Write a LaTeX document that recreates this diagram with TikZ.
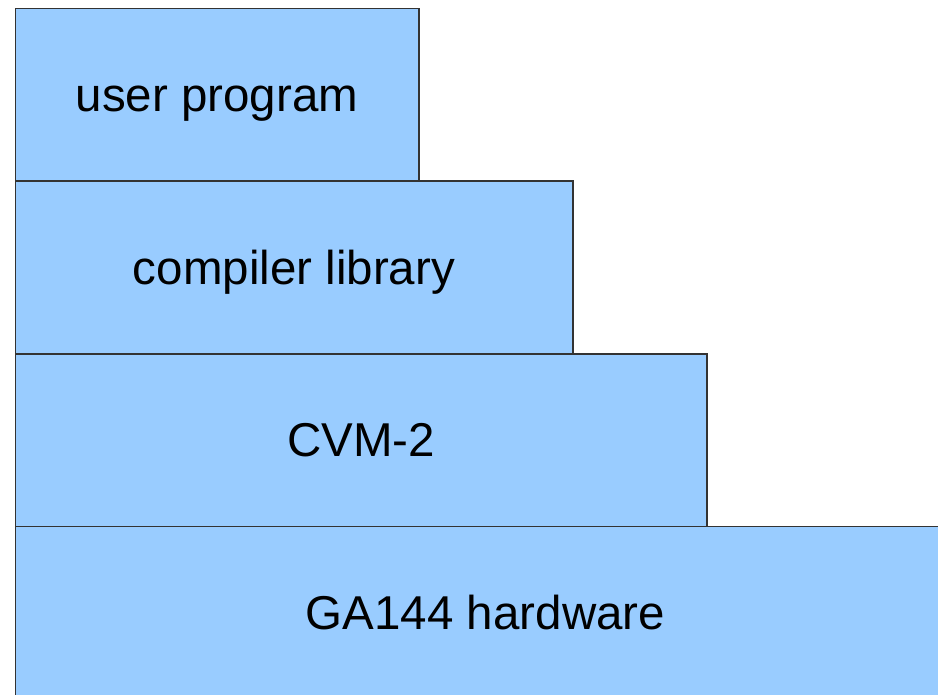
\documentclass[tikz,border=0pt]{standalone}
\usepackage{fontspec}
\setmainfont{Liberation Sans}
\begin{document}
\begin{tikzpicture}[x=1pt,y=-1pt,
  layer/.style={draw=black!80,line width=1.2pt,fill=lblue},
  lbl/.style={font=\fontsize{47.5}{56}\selectfont,text=black,anchor=base,inner sep=0pt}]
\definecolor{lblue}{HTML}{99CCFF}
\useasboundingbox (0,0) rectangle (938,695);
\fill[white] (0,0) rectangle (938,695);
\begin{scope}
\clip (0,0) rectangle (938,695);
\draw[layer] (15.5,526.5) rectangle (956,699);
\draw[layer] (15.5,354) rectangle (707,526.5);
\draw[layer] (15.5,181) rectangle (573,354);
\draw[layer] (15.5,8.5) rectangle (419,181);
\node[lbl] (hw) at (485.5,629.5) {GA144 hardware};
\node[lbl] (cvm) at (361,456.7) {CVM-2};
\node[lbl] (lib) at (294,284.5) {compiler library};
\node[lbl] (up) at (217,111.7) {user program};
\end{scope}
\end{tikzpicture}
\end{document}
